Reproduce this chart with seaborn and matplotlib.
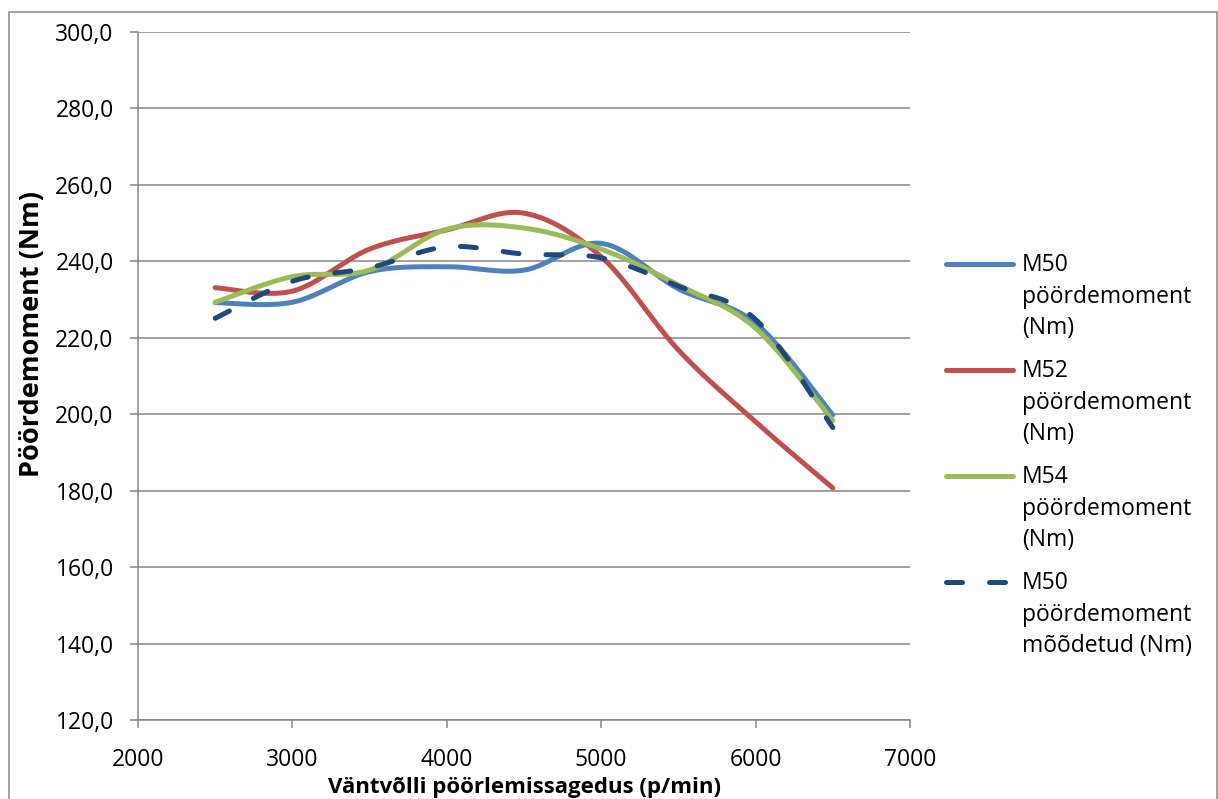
import numpy as np
import pandas as pd
import matplotlib
matplotlib.use("Agg")
import matplotlib.pyplot as plt
from matplotlib.lines import Line2D
from matplotlib.patches import Rectangle
from matplotlib.ticker import FuncFormatter, MultipleLocator
import seaborn as sns

# ---- data ----
rpm = [2500, 3000, 3500, 4000, 4500, 5000, 5500, 6000, 6500]
m50 = [229.2, 229.3, 237.3, 238.6, 237.7, 244.7, 232.8, 223.8, 199.8]
m52 = [233.1, 232.2, 243.2, 248.2, 252.6, 241.2, 216.8, 198.0, 180.7]
m54 = [229.3, 236.0, 237.7, 248.4, 248.7, 243.2, 233.8, 222.5, 198.3]
m50_meas = [225.1, 234.8, 238.3, 243.8, 241.9, 240.9, 233.5, 224.8, 196.5]

series_names = ["M50\npöördemoment\n(Nm)", "M52\npöördemoment\n(Nm)",
                "M54\npöördemoment\n(Nm)", "M50\npöördemoment\nmõõdetud (Nm)"]
series_values = [m50, m52, m54, m50_meas]
colors = ["#4F81BD", "#C0504D", "#9BBB59", "#1F497D"]
x_label = "Väntvõlli pöörlemissagedus (p/min)"
y_label = "Pöördemoment (Nm)"

W, H = 1218, 799


def smooth(xs, ys, n=40):
    """Excel-style smoothed line: Bezier segments through the data points."""
    P = np.column_stack([xs, ys]).astype(float)
    P = np.vstack([P[0], P, P[-1]])
    out = []
    for i in range(1, len(P) - 2):
        p0, p1, p2, p3 = P[i - 1], P[i], P[i + 1], P[i + 2]
        b0, b1, b2, b3 = p1, p1 + (p2 - p0) / 6, p2 - (p3 - p1) / 6, p2
        t = np.linspace(0, 1, n, endpoint=(i == len(P) - 3))[:, None]
        seg = ((1 - t) ** 3) * b0 + 3 * ((1 - t) ** 2) * t * b1 + 3 * (1 - t) * t ** 2 * b2 + t ** 3 * b3
        out.append(seg)
    out = np.vstack(out)
    return out[:, 0], out[:, 1]


sns.set_theme(style="white")
plt.rcParams["font.family"] = ["Open Sans", "DejaVu Sans"]

fig = plt.figure(figsize=(W / 100, H / 100), dpi=100)
ax = fig.add_axes([138 / W, 1 - 720 / H, (910 - 138) / W, (720 - 32) / H])

grid_c = "#868686"
lw = 3.6
dash = (0, (3.2, 5.4))
for name, vals, c in zip(series_names, series_values, colors):
    sx, sy = smooth(rpm, vals)
    df = pd.DataFrame({"rpm": sx, "torque": sy})
    kw = dict(solid_capstyle="round", dash_capstyle="round")
    if "mõõdetud" in name:
        kw["linestyle"] = dash
    sns.lineplot(data=df, x="rpm", y="torque", color=c, linewidth=lw, ax=ax,
                 sort=False, estimator=None, zorder=3, **kw)

ax.set_xlim(2000, 7000)
ax.set_ylim(120, 300)
ax.xaxis.set_major_locator(MultipleLocator(1000))
ax.yaxis.set_major_locator(MultipleLocator(20))
ax.yaxis.set_major_formatter(FuncFormatter(lambda v, p: f"{v:.1f}".replace(".", ",")))
ax.xaxis.set_major_formatter(FuncFormatter(lambda v, p: f"{int(v)}"))

ax.grid(axis="y", color=grid_c, linewidth=1.1)
ax.grid(axis="x", visible=False)
ax.set_axisbelow(True)
for s in ["top", "right"]:
    ax.spines[s].set_visible(False)
for s in ["left", "bottom"]:
    ax.spines[s].set_color(grid_c)
    ax.spines[s].set_linewidth(1.1)

ax.tick_params(axis="both", which="major", direction="out", length=5.5, width=1.1,
               color=grid_c, labelsize=16.5, labelcolor="black", left=True, bottom=True)
ax.tick_params(axis="y", pad=12)
ax.tick_params(axis="x", pad=14.5)
ax.set_xlabel("")
ax.set_ylabel("")

fig.text(524 / W, 1 - 788 / H, x_label, ha="center", va="center",
         fontsize=16, fontweight="bold", color="black")
fig.text(32 / W, 1 - 334 / H, y_label, ha="center", va="center", rotation=90,
         fontsize=19.5, fontweight="bold", color="black")

# legend (drawn in figure pixel positions)
for i, (name, c) in enumerate(zip(series_names, colors)):
    yh = 264 + 106 * i
    ls = dash if "mõõdetud" in name else "-"
    fig.add_artist(Line2D([946 / W, 1013 / W], [1 - yh / H, 1 - yh / H], color=c,
                          linewidth=lw, linestyle=ls, solid_capstyle="round",
                          dash_capstyle="round", transform=fig.transFigure))
    fig.text(1022 / W, 1 - (yh - 11) / H, name, ha="left", va="top", fontsize=16.5,
             color="black", linespacing=1.42)

# chart-area border
fig.add_artist(Rectangle((9 / W, -0.01), (1217 - 9) / W, 1 - 12 / H + 0.01,
                         transform=fig.transFigure, fill=False, edgecolor=grid_c,
                         linewidth=1.1))

fig.savefig("out.png", dpi=100)
